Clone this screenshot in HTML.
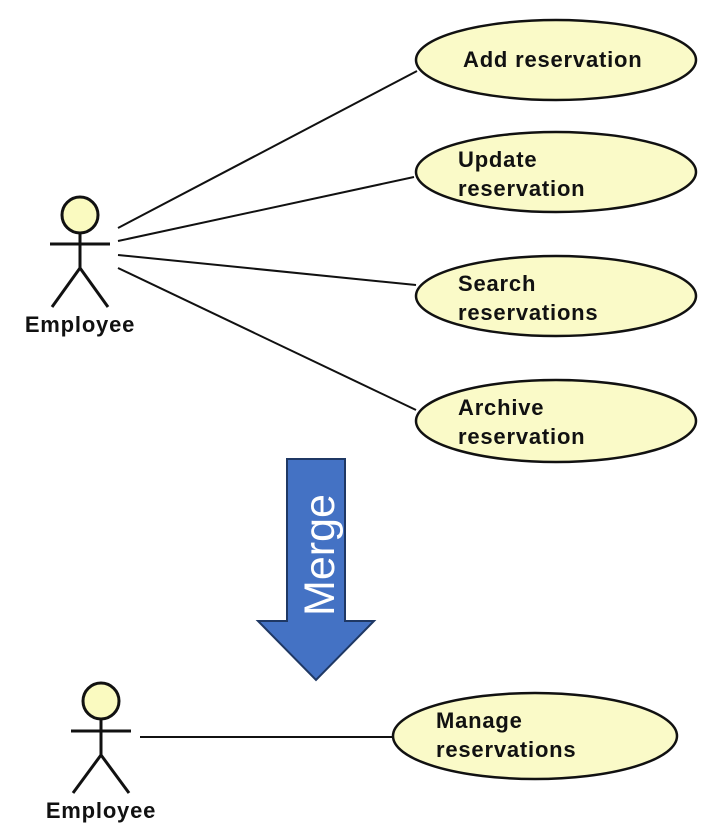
<!DOCTYPE html>
<html><head><meta charset="utf-8"><style>html,body{margin:0;padding:0;background:#fff}svg{display:block}</style></head>
<body>
<svg width="715" height="834" viewBox="0 0 715 834" xmlns="http://www.w3.org/2000/svg">
<g font-family="Liberation Sans, sans-serif" font-weight="bold" font-size="22" letter-spacing="0.8" fill="#111">
<!-- lines -->
<g stroke="#111" stroke-width="2">
<line x1="118" y1="228" x2="417" y2="71"/>
<line x1="118" y1="241" x2="414" y2="177"/>
<line x1="118" y1="255" x2="416" y2="285"/>
<line x1="118" y1="268" x2="416" y2="410"/>
<line x1="140" y1="737" x2="393" y2="737"/>
</g>
<!-- actor 1 -->
<g stroke="#111" stroke-width="3" fill="none">
<circle cx="80" cy="215" r="18" fill="#fafac0"/>
<line x1="80" y1="233" x2="80" y2="268"/>
<line x1="50" y1="244" x2="110" y2="244"/>
<line x1="80" y1="268" x2="52" y2="307"/>
<line x1="80" y1="268" x2="108" y2="307"/>
</g>
<text x="80" y="332" text-anchor="middle">Employee</text>
<!-- actor 2 -->
<g stroke="#111" stroke-width="3" fill="none">
<circle cx="101" cy="701" r="18" fill="#fafac0"/>
<line x1="101" y1="719" x2="101" y2="755"/>
<line x1="71" y1="731" x2="131" y2="731"/>
<line x1="101" y1="755" x2="73" y2="793"/>
<line x1="101" y1="755" x2="129" y2="793"/>
</g>
<text x="101" y="818" text-anchor="middle">Employee</text>
<!-- ellipses -->
<g stroke="#111" stroke-width="2.5" fill="#fafac8">
<ellipse cx="556" cy="60" rx="140" ry="40"/>
<ellipse cx="556" cy="172" rx="140" ry="40"/>
<ellipse cx="556" cy="296" rx="140" ry="40"/>
<ellipse cx="556" cy="421" rx="140" ry="41"/>
<ellipse cx="535" cy="736" rx="142" ry="43"/>
</g>
<text x="463" y="67">Add reservation</text>
<text x="458" y="167">Update</text><text x="458" y="196">reservation</text>
<text x="458" y="291">Search</text><text x="458" y="320">reservations</text>
<text x="458" y="415">Archive</text><text x="458" y="444">reservation</text>
<text x="436" y="728">Manage</text><text x="436" y="757">reservations</text>
</g>
<!-- merge arrow -->
<polygon points="287,459 345,459 345,621 374,621 316,680 258,621 287,621" fill="#4472c4" stroke="#1f3864" stroke-width="2"/>
<text transform="translate(334,555) rotate(-90)" text-anchor="middle" font-family="Liberation Sans, sans-serif" font-size="43" fill="#fff">Merge</text>
</svg>
</body></html>
